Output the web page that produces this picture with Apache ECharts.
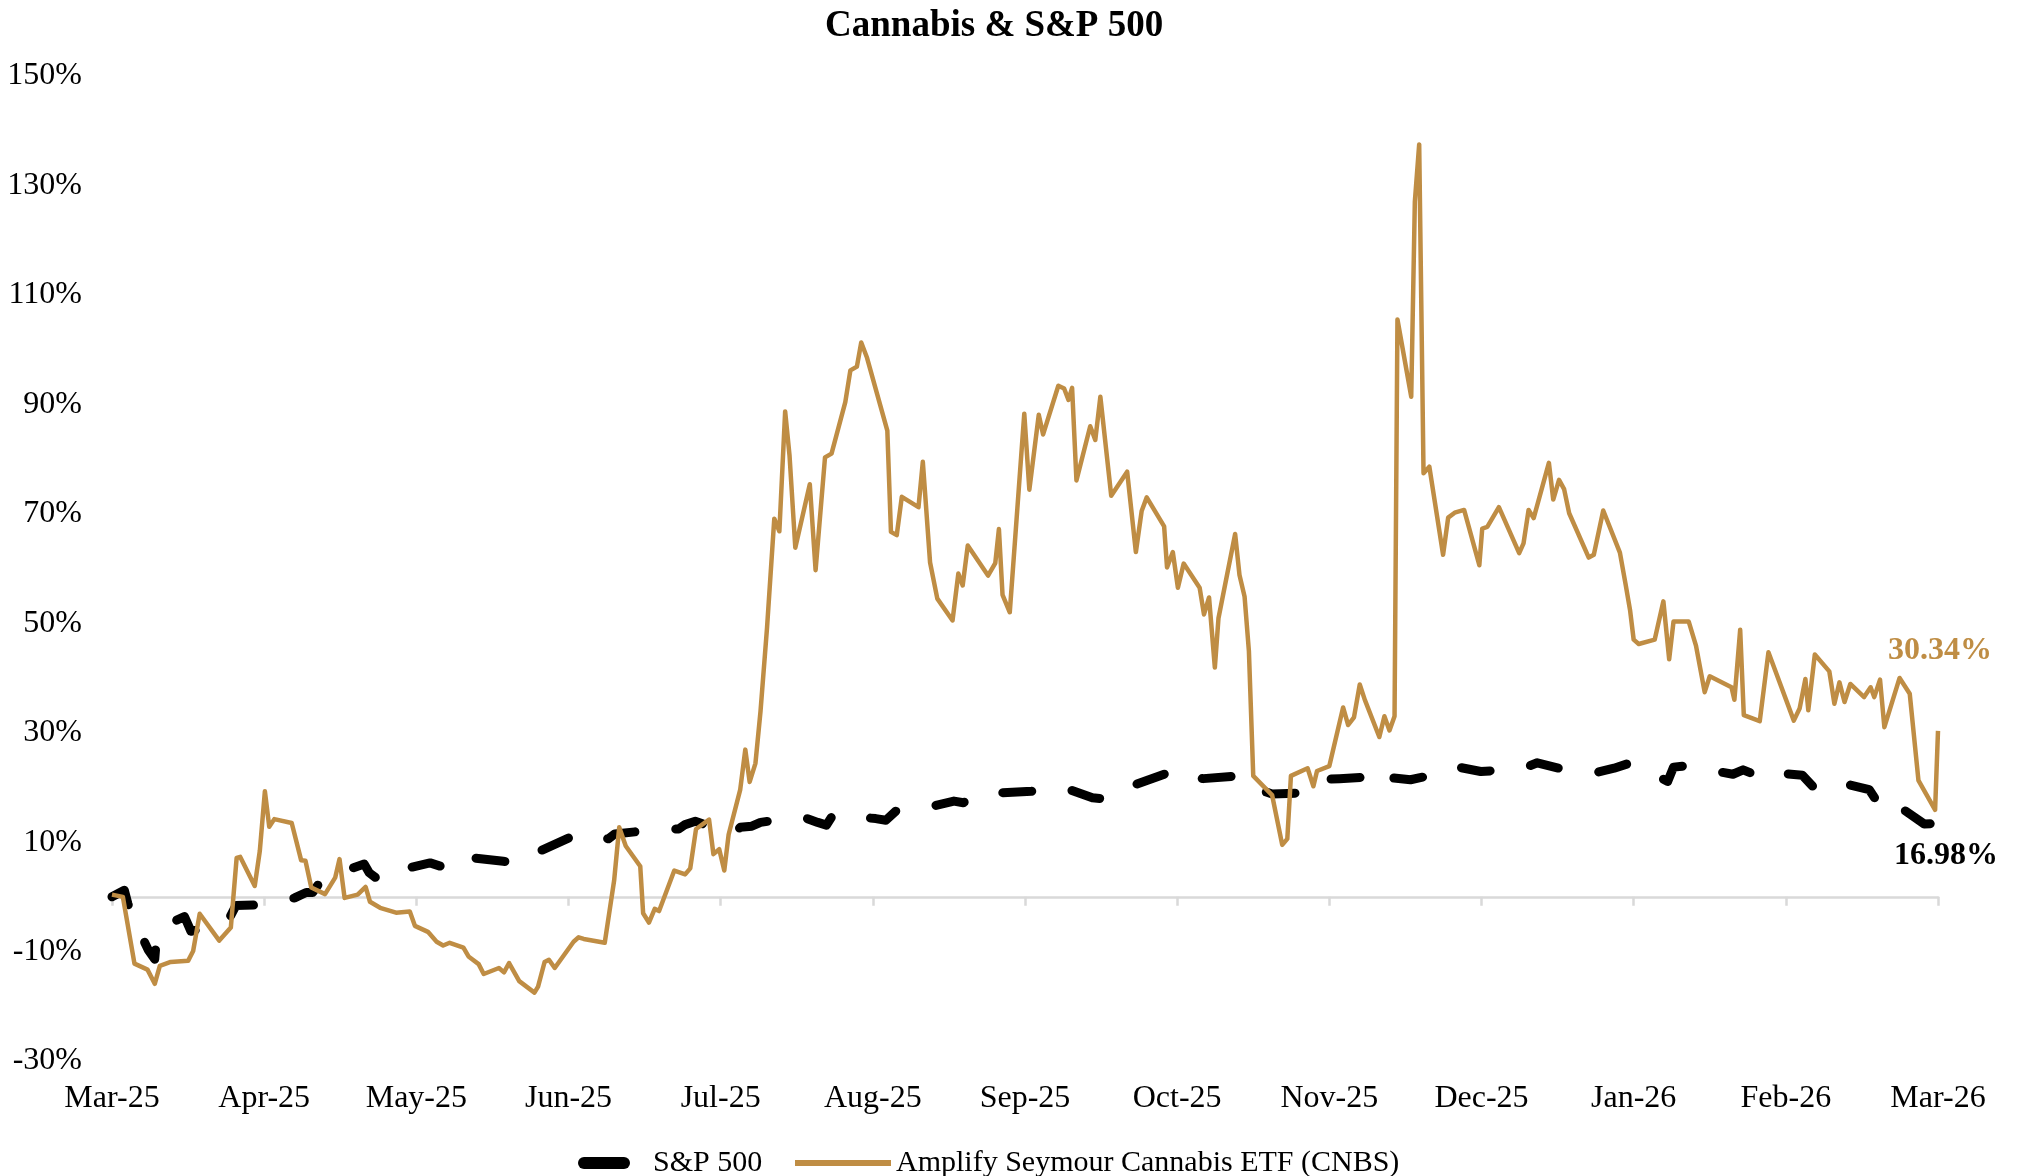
<!DOCTYPE html>
<html>
<head>
<meta charset="utf-8">
<script src="https://cdn.jsdelivr.net/npm/echarts@6/dist/echarts.min.js"></script>
<style>
  html, body { margin: 0; padding: 0; background: #ffffff; }
  #chart { width: 2020px; height: 1176px; }
</style>
</head>
<body>
<div id="chart"></div>
<script>
// X axis: trading-day index since start (0 = Mar-25, 252 = Mar-26), labelled every 21 days
const monthLabels = ['Mar-25','Apr-25','May-25','Jun-25','Jul-25','Aug-25','Sep-25','Oct-25','Nov-25','Dec-25','Jan-26','Feb-26','Mar-26'];
const yTickLabels = [-30, -10, 10, 30, 50, 70, 90, 110, 130, 150];

// S&P 500 cumulative return (%)
const spxDays = [0,1.7,2.2,2.8,5.0,5.9,6.2,7.9,10.0,10.9,15.8,17.1,19.9,25.2,26.8,27.7,29.1,34.8,35.5,36.9,38.7,43.9,45.8,46.7,49.2,54.0,56.1,58.0,59.1,64.6,65.8,68.5,69.4,75.3,78.2,79.1,80.5,85.8,86.7,88.3,89.5,95.1,97.4,98.6,99.5,105.4,106.8,108.2,110.3,116.2,117.5,119.0,121.3,126.9,131.3,135.3,137.0,138.0,140.6,145.8,147.0,148.4,150.6,155.6,156.8,158.0,160.1,164.4,166.5,169.4,175.2,176.2,176.9,179.2,183.8,185.4,188.9,194.6,196.7,199.7,204.5,207.3,209.6,214.7,215.5,217.6,219.5,223.7,225.1,227.5,228.3,233.3,235.0,237.5,242.5,244.4,246.2,250.1,251.7,252];
const spxReturns = [0,1.2,-1.3,-3.5,-9.7,-11.4,-6.5,-4.9,-3.6,-6.3,-4.9,-1.6,-1.5,-0.2,0.8,0.8,3.4,6.0,4.4,3.0,4.6,6.2,5.4,7.1,7.2,6.5,6.2,7.1,8.4,11.7,11.5,10.6,11.5,12.3,12.4,13.2,13.8,11.5,12.7,12.9,13.6,14.7,13.6,13.1,15.0,14.3,14.0,15.7,15.6,17.5,17.2,18.6,18.9,19.3,20.0,18.1,17.9,19.0,20.2,22.7,21.4,21.8,21.6,22.1,20.2,19.7,18.8,19.0,21.4,21.6,22.0,23.2,21.7,21.4,22.7,23.8,22.9,23.4,24.5,23.5,22.6,23.5,24.5,21.1,23.7,24.0,23.4,22.4,23.2,21.9,22.8,22.2,19.8,21.2,19.6,15.8,16.9,13.3,13.4,16.98];

// Amplify Seymour Cannabis ETF (CNBS) cumulative return (%)
const cnbsDays = [0,1.5,3.1,4.9,5.9,6.6,8.1,10.5,11.2,12.1,14.8,16.4,17.2,17.7,19.7,20.4,21.1,21.7,22.4,24.8,26.1,26.7,27.5,29.4,30.8,31.4,32.1,33.9,35.0,35.6,37.0,39.2,41.1,41.8,43.6,44.8,45.7,46.6,48.5,49.2,50.6,51.3,53.4,54.1,54.8,56.2,58.3,58.8,59.7,60.3,61.1,63.7,64.4,65.1,68.0,69.3,70.0,70.9,72.9,73.3,74.1,74.9,75.5,77.6,79.1,79.8,80.6,82.4,83.0,83.8,84.5,85.1,86.7,87.4,88.0,88.8,89.5,90.4,91.4,92.1,92.9,93.5,94.3,96.3,97.1,98.4,99.3,101.2,101.9,102.8,103.4,104.2,107.0,107.5,108.3,109.0,111.3,111.9,112.9,113.9,116.0,116.8,117.4,118.1,120.9,121.9,122.4,122.9,123.9,125.9,126.6,127.9,128.5,130.6,131.4,132.0,132.5,133.1,135.0,135.7,136.4,137.9,140.1,141.3,142.1,142.8,145.2,145.6,146.4,147.1,147.9,150.1,150.7,151.4,152.2,152.7,155.0,155.6,156.3,156.9,157.5,160.1,161.5,162.2,162.7,165.0,165.8,166.3,168.0,169.9,170.6,171.4,172.2,172.9,174.9,175.6,176.3,177.0,177.4,179.3,179.8,180.4,181.0,181.8,183.7,184.4,185.3,186.6,188.7,189.1,189.8,191.4,194.2,194.8,195.5,196.2,198.3,198.9,199.7,200.4,201.1,203.8,204.5,205.8,208.1,208.9,209.5,210.0,210.7,212.9,214.1,214.9,215.5,217.6,218.6,219.8,220.5,223.5,223.9,224.7,225.2,227.4,228.6,232.1,232.9,233.7,234.1,235.0,237.0,237.7,238.4,239.1,239.9,241.8,242.7,243.2,244.0,244.6,246.7,248.1,249.3,251.6,252];
const cnbsReturns = [0.4,0,-12.2,-13.3,-15.9,-12.6,-11.9,-11.7,-9.9,-3.1,-8.0,-5.6,7.1,7.3,2.0,8.4,19.3,12.8,14.2,13.5,6.7,6.6,1.7,0.5,3.5,6.9,-0.2,0.4,1.8,-0.9,-2.0,-2.9,-2.7,-5.3,-6.4,-8.2,-8.9,-8.4,-9.3,-10.9,-12.3,-14.1,-13.0,-13.8,-12.1,-15.4,-17.5,-16.4,-11.9,-11.5,-13.0,-8.2,-7.4,-7.7,-8.4,3.0,12.7,9.3,5.6,-3.0,-4.7,-2.2,-2.6,4.8,4.1,5.2,12.4,14.1,7.8,8.7,4.8,11.4,19.6,26.9,21.0,24.4,33.9,49.2,69.1,66.8,88.7,80.7,63.8,75.4,59.7,80.3,81.0,90.4,96.2,96.9,101.3,98.5,85.2,66.7,66.1,73.1,71.2,79.5,61.1,54.5,50.5,59.1,56.9,64.2,58.7,61.0,67.2,55.2,52.0,88.3,74.4,88.1,84.5,93.4,92.9,90.8,93.0,76.1,86.0,83.5,91.4,73.3,77.7,63.0,70.5,73.0,67.7,60.2,63.0,56.5,60.9,56.5,51.6,54.7,41.9,50.9,66.3,58.8,54.9,44.9,22.1,18.6,9.5,10.6,22.1,23.5,20.2,23.0,23.9,34.6,31.4,32.8,38.8,36.0,29.2,33.0,30.4,33.0,105.5,91.4,127.0,137.5,77.4,78.6,62.5,69.3,70.2,70.7,60.6,67.3,67.6,71.2,62.8,64.6,70.7,69.2,79.3,72.6,76.2,74.5,70.1,62.0,62.5,70.6,62.9,57.0,52.4,47.0,46.2,47.0,54.0,43.4,50.3,50.3,45.9,37.4,40.3,38.3,36.0,48.8,33.2,32.1,44.7,32.2,34.4,39.8,34.1,44.3,41.2,35.3,39.2,35.6,38.9,36.5,38.3,36.5,39.7,31.0,40.0,37.1,21.3,15.9,30.34];

const GOLD = '#BF8D44';
const FONT = 'Liberation Serif';
const SPX_NAME = 'S&P 500';
const CNBS_NAME = 'Amplify Seymour Cannabis ETF (CNBS)';
const pair = (xs, ys) => xs.map((x, i) => [x, ys[i]]);
const lastOf = a => a[a.length - 1];

// legend glyphs (the leading moves only fix the icon's bounding box)
const SPX_ICON = 'path://M0,0 M70,14 M6,1 L46,1 A6,6 0 0 1 46,13 L6,13 A6,6 0 0 1 6,1 Z';
const CNBS_ICON = 'path://M0,0 M96,14 M0,4 L96,4 L96,10 L0,10 Z';

const legendText = { fontFamily: FONT, fontSize: 30, color: '#000000' };

const chart = echarts.init(document.getElementById('chart'), null, { renderer: 'canvas' });

chart.setOption({
  animation: false,
  backgroundColor: '#ffffff',
  title: {
    text: 'Cannabis & S&P 500',
    left: 820,
    top: 3,
    textStyle: { fontFamily: FONT, fontWeight: 'bold', fontSize: 37, color: '#000000' }
  },
  legend: [
    {
      left: 573, top: 1143,
      itemWidth: 70, itemHeight: 14,
      textStyle: legendText,
      data: [{ name: SPX_NAME, icon: SPX_ICON }]
    },
    {
      left: 790, top: 1143,
      itemWidth: 96, itemHeight: 14,
      textStyle: legendText,
      data: [{ name: CNBS_NAME, icon: CNBS_ICON }]
    }
  ],
  grid: { left: 112, right: 82, top: 76, bottom: 115, containLabel: false },
  xAxis: [
    {
      type: 'value', min: 0, max: 252, interval: 21,
      position: 'bottom',
      axisLine: { show: false, onZero: false },
      axisTick: { show: false },
      splitLine: { show: false },
      axisLabel: {
        margin: 22,
        fontFamily: FONT, fontSize: 32, color: '#000000',
        formatter: v => monthLabels[Math.round(v / 21)] || ''
      }
    },
    {
      type: 'value', min: 0, max: 252, interval: 21,
      position: 'bottom',
      axisLine: { show: true, onZero: true, lineStyle: { color: '#D9D9D9', width: 2.5 } },
      axisTick: { show: true, inside: false, length: 9, lineStyle: { color: '#D9D9D9', width: 2.5 } },
      splitLine: { show: false },
      axisLabel: { show: false }
    }
  ],
  yAxis: {
    type: 'value', min: -30, max: 150, interval: 10,
    axisLine: { show: false },
    axisTick: { show: false },
    splitLine: { show: false },
    axisLabel: {
      margin: 30,
      fontFamily: FONT, fontSize: 32, color: '#000000',
      formatter: v => (yTickLabels.indexOf(v) >= 0 ? v + '%' : '')
    }
  },
  series: [
    {
      name: SPX_NAME,
      type: 'line',
      xAxisIndex: 0,
      data: pair(spxDays, spxReturns),
      showSymbol: false,
      symbol: 'none',
      color: '#000000',
      lineStyle: { color: '#000000', width: 9, type: [29, 41], cap: 'round', join: 'round' },
      endLabel: {
        show: true,
        formatter: () => lastOf(spxReturns).toFixed(2) + '%',
        offset: [-52, 52],
        fontFamily: FONT, fontWeight: 'bold', fontSize: 32, color: '#000000'
      },
      z: 2
    },
    {
      name: CNBS_NAME,
      type: 'line',
      xAxisIndex: 0,
      data: pair(cnbsDays, cnbsReturns),
      showSymbol: false,
      symbol: 'none',
      color: GOLD,
      lineStyle: { color: GOLD, width: 4.5, join: 'round' },
      endLabel: {
        show: true,
        formatter: () => lastOf(cnbsReturns).toFixed(2) + '%',
        offset: [-58, -80],
        fontFamily: FONT, fontWeight: 'bold', fontSize: 32, color: GOLD
      },
      z: 3
    }
  ]
});
</script>
</body>
</html>
